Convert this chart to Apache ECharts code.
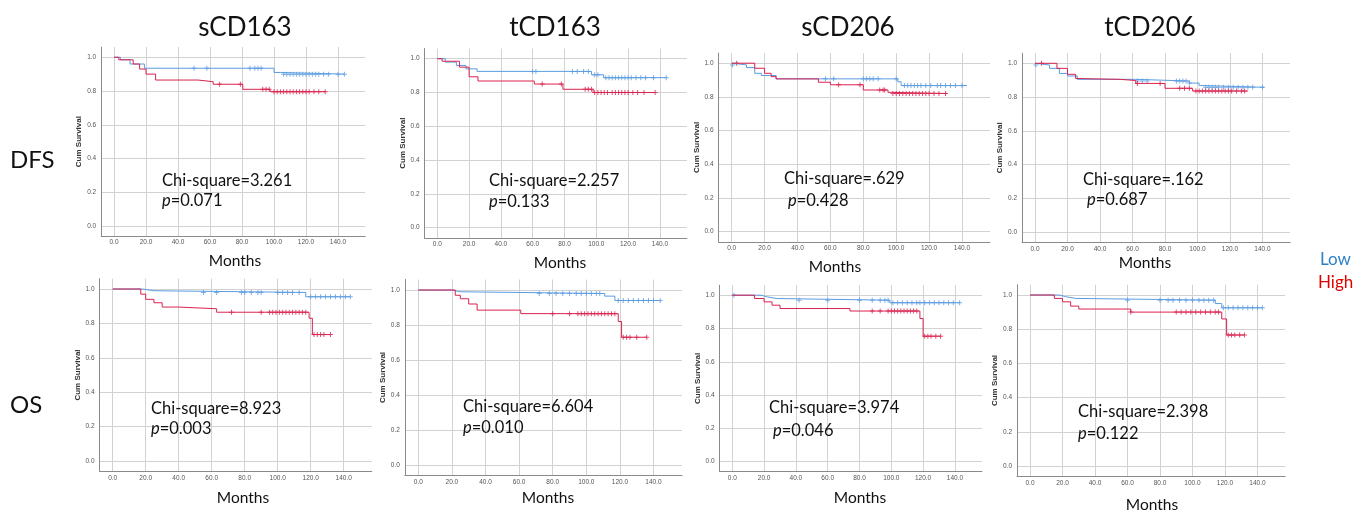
<!DOCTYPE html>
<html>
<head>
<meta charset="utf-8">
<script src="https://cdn.jsdelivr.net/npm/echarts@6/dist/echarts.min.js"></script>
<style>
  html, body { margin: 0; padding: 0; background: #fff; }
  #chart { width: 1356px; height: 511px; }
</style>
</head>
<body>
<div id="chart"></div>
<script>
// headers and test results (panel order: DFS row then OS row)
const markers = ['sCD163', 'tCD163', 'sCD206', 'tCD206'];
const endpoints = ['DFS', 'OS'];
const chiSquare = ['3.261', '2.257', '.629', '.162', '8.923', '6.604', '3.974', '2.398'];
const pValues = ['0.071', '0.133', '0.428', '0.687', '0.003', '0.010', '0.046', '0.122'];
const monthTicks = [0, 20, 40, 60, 80, 100, 120, 140];
const survTicks = [0, 0.2, 0.4, 0.6, 0.8, 1.0];

// DFS sCD163
const dfsS163LowT = [0, 4, 10, 19, 100, 104, 144];
const dfsS163LowS = [1, 0.985, 0.96, 0.935, 0.91, 0.90, 0.90];
const dfsS163LowC = [50, 58, 85, 88, 90, 92, 106, 108, 110, 112, 114, 116, 118, 120, 122, 124, 126, 128, 131, 134, 140, 144];
const dfsS163HighT = [0, 3, 12, 16, 20, 26, 52.5, 62, 80.5, 97.5, 132];
const dfsS163HighS = [1, 0.985, 0.96, 0.93, 0.90, 0.865, 0.855, 0.84, 0.81, 0.796, 0.796];
const dfsS163HighC = [66, 79, 93, 95, 97, 100, 102, 104, 106, 108, 110, 112, 114, 116, 118, 120, 122, 125, 128, 132];

// DFS tCD163
const dfsT163LowT = [0, 5, 12, 18, 25, 97, 104.6, 144];
const dfsT163LowS = [1, 0.98, 0.96, 0.94, 0.925, 0.905, 0.888, 0.888];
const dfsT163LowC = [60, 62, 85, 88, 92, 95, 99, 101, 106, 108, 110, 112, 114, 116, 118, 120, 122, 125, 128, 131, 136, 144];
const dfsT163HighT = [0, 3, 14, 20, 25.6, 61, 79, 98, 137];
const dfsT163HighS = [1, 0.985, 0.95, 0.893, 0.868, 0.85, 0.819, 0.80, 0.80];
const dfsT163HighC = [66, 78, 93, 95, 97, 99, 101, 103, 105, 107, 110, 112, 114, 116, 118, 120, 123, 126, 130, 137];

// DFS sCD206
const dfsS206LowT = [0, 0.5, 9, 14, 18, 27, 101, 103, 143];
const dfsS206LowS = [1, 0.99, 0.974, 0.94, 0.927, 0.907, 0.89, 0.867, 0.867];
const dfsS206LowC = [0.5, 57, 62, 80, 82, 84, 86, 89, 100, 105, 107, 109, 111, 113, 115, 118, 121, 125, 127, 130, 133, 136, 140];
const dfsS206HighT = [0, 14, 20, 24, 27, 52.7, 60, 80, 95, 97, 131];
const dfsS206HighS = [1, 0.97, 0.94, 0.92, 0.907, 0.887, 0.872, 0.841, 0.827, 0.82, 0.82];
const dfsS206HighC = [3, 65, 78, 90, 92, 93, 98, 100, 102, 104, 106, 108, 110, 112, 114, 116, 118, 120, 123, 126, 130];

// DFS tCD206
const dfsT206LowT = [0, 0.5, 9, 15, 20, 26, 62, 95, 101, 104, 141];
const dfsT206LowS = [1, 0.99, 0.97, 0.94, 0.925, 0.905, 0.895, 0.883, 0.868, 0.858, 0.858];
const dfsT206LowC = [0.5, 63, 66, 69, 87, 89, 91, 93, 95, 105, 107, 109, 111, 113, 116, 119, 122, 125, 128, 131, 134, 140];
const dfsT206HighT = [0, 13.5, 20, 25, 27, 52.5, 62, 80, 97, 131];
const dfsT206HighS = [1, 0.97, 0.935, 0.91, 0.905, 0.898, 0.881, 0.852, 0.836, 0.836];
const dfsT206HighC = [4, 63, 77, 89, 92, 95, 99, 101, 103, 105, 107, 109, 111, 113, 115, 117, 119, 121, 124, 127, 129];

// OS sCD163
const osS163LowT = [0, 18, 25, 117, 144];
const osS163LowS = [1, 0.99, 0.98, 0.955, 0.955];
const osS163LowC = [55, 63, 78, 80, 84, 88, 90, 100, 103, 106, 109, 113, 120, 123, 126, 129, 132, 135, 138, 141, 144];
const osS163HighT = [0, 17, 20, 25, 30, 40, 63, 119, 121, 132];
const osS163HighS = [1, 0.97, 0.94, 0.92, 0.895, 0.885, 0.865, 0.83, 0.735, 0.735];
const osS163HighC = [72, 90, 95, 97, 99, 101, 103, 105, 107, 109, 111, 113, 115, 117, 122, 124, 126, 128, 132];

// OS tCD163
const osT163LowT = [0, 20, 25, 111, 117, 144];
const osT163LowS = [1, 0.99, 0.98, 0.965, 0.94, 0.94];
const osT163LowC = [72, 78, 82, 86, 90, 94, 97, 100, 103, 106, 108, 119, 122, 125, 128, 131, 134, 137, 140, 144];
const osT163HighT = [0, 22, 25, 30, 35, 61, 119, 121, 136];
const osT163HighS = [1, 0.97, 0.95, 0.92, 0.885, 0.865, 0.82, 0.73, 0.73];
const osT163HighC = [80, 90, 95, 97, 99, 101, 103, 105, 107, 109, 111, 113, 115, 117, 122, 124, 126, 130, 136];

// OS sCD206
const osS206LowT = [0, 18, 22, 28, 99, 143];
const osS206LowS = [1, 0.99, 0.98, 0.97, 0.955, 0.955];
const osS206LowC = [1, 42, 60, 80, 88, 93, 96, 98, 101, 104, 107, 110, 113, 116, 118, 121, 124, 127, 130, 133, 136, 139, 143];
const osS206HighT = [0, 14, 20, 25, 30, 74, 118, 120, 131];
const osS206HighS = [1, 0.98, 0.96, 0.94, 0.92, 0.905, 0.86, 0.754, 0.754];
const osS206HighC = [88, 93, 98, 100, 102, 104, 106, 108, 110, 112, 114, 116, 121, 123, 125, 128, 131];

// OS tCD206
const osT206LowT = [0, 18, 22, 28, 114, 118, 143];
const osT206LowS = [1, 0.99, 0.98, 0.97, 0.95, 0.925, 0.925];
const osT206LowC = [60, 80, 85, 88, 92, 96, 100, 104, 107, 110, 113, 119, 122, 125, 128, 131, 134, 137, 140, 143];
const osT206HighT = [0, 15, 20, 25, 30, 62, 118, 121, 132];
const osT206HighS = [1, 0.98, 0.96, 0.935, 0.918, 0.90, 0.86, 0.766, 0.766];
const osT206HighC = [62, 90, 93, 96, 99, 102, 105, 108, 111, 114, 116, 122, 124, 126, 129, 132];

const curves = [
  [[dfsS163LowT, dfsS163LowS, dfsS163LowC], [dfsS163HighT, dfsS163HighS, dfsS163HighC]],
  [[dfsT163LowT, dfsT163LowS, dfsT163LowC], [dfsT163HighT, dfsT163HighS, dfsT163HighC]],
  [[dfsS206LowT, dfsS206LowS, dfsS206LowC], [dfsS206HighT, dfsS206HighS, dfsS206HighC]],
  [[dfsT206LowT, dfsT206LowS, dfsT206LowC], [dfsT206HighT, dfsT206HighS, dfsT206HighC]],
  [[osS163LowT, osS163LowS, osS163LowC], [osS163HighT, osS163HighS, osS163HighC]],
  [[osT163LowT, osT163LowS, osT163LowC], [osT163HighT, osT163HighS, osT163HighC]],
  [[osS206LowT, osS206LowS, osS206LowC], [osS206HighT, osS206HighS, osS206HighC]],
  [[osT206LowT, osT206LowS, osT206LowC], [osT206HighT, osT206HighS, osT206HighC]]
];

// layout: pixel of month 0, px per 20 months, pixel of 0.0, px per 0.2
const frames = [
  [114, 32.0, 226, 33.75],
  [437.3, 31.8, 227.7, 33.8],
  [731.7, 32.9, 231.7, 33.7],
  [1035, 32.5, 232.3, 33.8],
  [112.7, 33.0, 461, 34.4],
  [418.3, 33.6, 465, 35],
  [732.3, 31.8, 461.7, 33.3],
  [1030, 32.5, 466, 34.2]
];
const X_MIN = -8, X_MAX = 157, Y_MIN = -0.06, Y_MAX = 1.06;

// text anchors: [chi x, chi y, p x, p y, months x, months y]
const textPos = [
  [162, 181, 162, 201, 235, 261],
  [489, 181, 489, 202, 560, 263],
  [784, 179, 788, 201, 835, 267],
  [1083, 180, 1087, 200, 1145, 263],
  [151, 409, 151, 429, 243, 498],
  [463, 407, 463, 428, 548, 498],
  [769, 408, 773, 431, 860, 498],
  [1078, 412, 1078, 434, 1152, 505]
];

const LOW = '#5b9ce0';
const HIGH = '#d9234f';
const FONT = 'Lato, "Noto Sans", sans-serif';
const PLUS = 'path://M4,0H6V4H10V6H6V10H4V6H0V4H4Z';

const stepAt = (time, surv, t) => {
  let s = surv[0];
  time.forEach((x, i) => { if (x <= t) s = surv[i]; });
  return s;
};

const grids = [], xAxes = [], yAxes = [], series = [], texts = [];

frames.forEach(([x0, sx, y0, py], i) => {
  const kx = sx / 20, ky = py / 0.2;
  grids.push({
    left: x0 + X_MIN * kx,
    top: y0 - Y_MAX * ky,
    width: (X_MAX - X_MIN) * kx,
    height: (Y_MAX - Y_MIN) * ky
  });
  xAxes.push({
    gridIndex: i, type: 'value', min: X_MIN, max: X_MAX,
    axisLine: { onZero: false, lineStyle: { color: '#8a8a8a', width: 1 } },
    axisTick: { show: false, customValues: monthTicks },
    axisLabel: { customValues: monthTicks, formatter: v => v.toFixed(1), fontSize: 6.5, color: '#555', margin: 3, fontFamily: 'Liberation Sans' },
    splitLine: { show: true, lineStyle: { color: '#d2d2d2', width: 1 } }
  });
  yAxes.push({
    gridIndex: i, type: 'value', min: Y_MIN, max: Y_MAX,
    name: 'Cum Survival', nameLocation: 'middle', nameGap: 18,
    nameTextStyle: { fontSize: 8, fontWeight: 'bold', color: '#333', fontFamily: 'Liberation Sans' },
    axisLine: { show: true, onZero: false, lineStyle: { color: '#8a8a8a', width: 1 } },
    axisTick: { show: false, customValues: survTicks },
    axisLabel: { customValues: survTicks, formatter: v => v.toFixed(1), fontSize: 6.5, color: '#555', margin: 5, fontFamily: 'Liberation Sans' },
    splitLine: { show: true, lineStyle: { color: '#d2d2d2', width: 1 } }
  });

  curves[i].forEach(([time, surv, cens], g) => {
    const color = g === 0 ? LOW : HIGH;
    series.push({
      type: 'line', xAxisIndex: i, yAxisIndex: i, step: 'end',
      showSymbol: false, silent: true,
      lineStyle: { color, width: 1 },
      data: time.map((t, k) => [t, surv[k]])
    });
    series.push({
      type: 'scatter', xAxisIndex: i, yAxisIndex: i, symbol: PLUS, symbolSize: 5,
      silent: true, itemStyle: { color },
      data: cens.map(t => [t, stepAt(time, surv, t)])
    });
  });

  const [cx, cy, px, pyy, mx, my] = textPos[i];
  texts.push(
    { type: 'text', z: 100, x: cx, y: cy, style: { text: 'Chi-square=' + chiSquare[i], font: '16.5px ' + FONT, fill: '#111', verticalAlign: 'middle' } },
    { type: 'text', z: 100, x: px, y: pyy, style: { text: '{i|p}=' + pValues[i], font: '16.5px ' + FONT, fill: '#111', verticalAlign: 'middle',
        rich: { i: { fontStyle: 'italic', fontSize: 16.5, fontFamily: FONT } } } },
    { type: 'text', z: 100, x: mx, y: my, style: { text: 'Months', font: '15.5px ' + FONT, fill: '#111', align: 'center', verticalAlign: 'middle' } }
  );
});

// column and row headers, group legend
const colX = [245, 555, 848, 1150];
markers.forEach((m, i) => texts.push({ type: 'text', z: 100, x: colX[i], y: 28, style: { text: m, font: '26px ' + FONT, fill: '#111', align: 'center', verticalAlign: 'middle' } }));
const rowY = [160, 405];
endpoints.forEach((e, i) => texts.push({ type: 'text', z: 100, x: 10, y: rowY[i], style: { text: e, font: '24px ' + FONT, fill: '#111', verticalAlign: 'middle' } }));
texts.push(
  { type: 'text', z: 100, x: 1320, y: 260, style: { text: 'Low', font: '17px ' + FONT, fill: '#2f7fc4', verticalAlign: 'middle' } },
  { type: 'text', z: 100, x: 1318, y: 283, style: { text: 'High', font: '17px ' + FONT, fill: '#e00000', verticalAlign: 'middle' } }
);

const chart = echarts.init(document.getElementById('chart'));
chart.setOption({
  animation: false,
  backgroundColor: '#fff',
  grid: grids,
  xAxis: xAxes,
  yAxis: yAxes,
  series,
  graphic: texts
});
</script>
</body>
</html>
